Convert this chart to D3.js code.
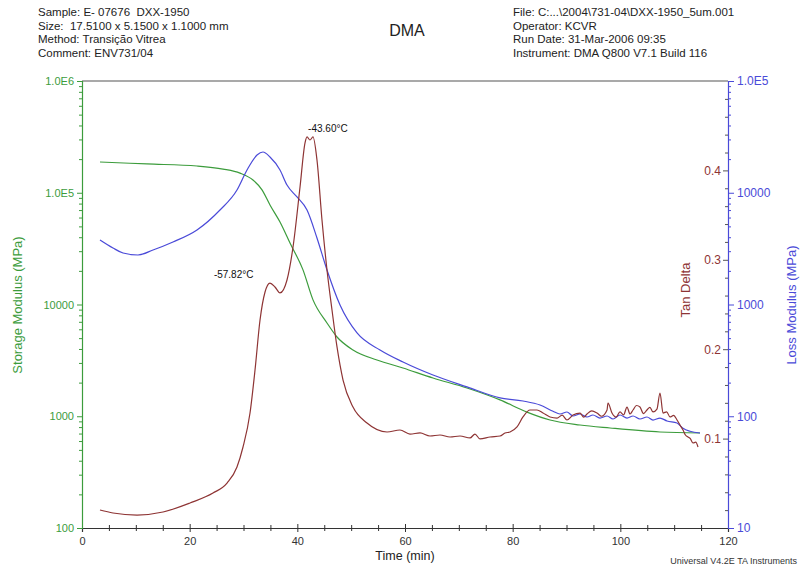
<!DOCTYPE html>
<html lang="en">
<head>
<meta charset="UTF-8">
<title>DMA</title>
<script src="https://d3js.org/d3.v7.min.js"></script>
<style>
  body { margin: 0; background: #fff; }
  svg { font-family: "Liberation Sans", Arial, sans-serif; }
  .hdr { font-size: 11.5px; fill: #222; white-space: pre; }
  .tick text { font-size: 11px; }
  .domain { stroke-width: 1.2px; }
</style>
</head>
<body>
<div id="chart"></div>
<script>
// ---- data ----
const storageTime = [3.34, 12.07, 21.36, 26.19, 29.35, 31.76, 33.44, 34.92, 36.78, 38.64, 41.05, 42.91, 45.51, 47.37, 50.34, 54.80, 59.63, 65.20, 71.52, 77.65, 82.66, 86.94, 92.51, 98.09, 107.37, 114.8];
const storageModulus = [188500, 181000, 173500, 163000, 150000, 130000, 106000, 77700, 54700, 35500, 20400, 11000, 6830, 5120, 3920, 3190, 2700, 2200, 1790, 1400, 1090, 925, 835, 785, 723, 708];

const lossTime = [3.34, 5.76, 7.62, 10.40, 13.19, 16.90, 21.36, 25.63, 28.79, 30.65, 32.51, 33.62, 34.92, 36.78, 38.08, 39.94, 41.80, 43.65, 45.51, 47.93, 51.09, 55.36, 59.63, 65.20, 71.52, 77.65, 81.92, 85.08, 87.49, 88.79, 90.09, 91.21, 92.51, 93.81, 94.92, 96.22, 97.53, 98.64, 99.94, 101.24, 102.36, 103.65, 104.95, 106.07, 107.37, 108.67, 110.53, 111.64, 112.94, 114.8];
const lossModulus = [3778, 3203, 2890, 2773, 3074, 3625, 4642, 7008, 10580, 15980, 21770, 23150, 20890, 15980, 11730, 9162, 7008, 3937, 2036, 989, 556, 392, 306, 234, 183, 146, 137, 126, 111, 104.7, 109.1, 100.5, 104.7, 98.5, 102.6, 96.4, 100.5, 94.5, 102.6, 96.4, 100.5, 94.5, 98.5, 92.5, 96.4, 90.7, 87.0, 78.1, 73.4, 70.8];

const tanTime = [3.34, 5.76, 10.22, 15.05, 20.06, 24.33, 26.94, 28.79, 29.91, 31.21, 32.14, 33.07, 34.0, 34.92, 35.85, 36.78, 38.08, 39.20, 40.50, 41.42, 41.80, 42.35, 42.91, 43.65, 44.58, 45.51, 46.44, 47.37, 48.49, 50.34, 52.94, 56.66, 59.07, 60.93, 62.79, 64.64, 66.50, 68.36, 70.22, 72.08, 73.0, 73.93, 75.79, 77.65, 78.58, 79.51, 80.81, 81.92, 83.22, 84.52, 85.64, 86.94, 88.24, 89.2, 90.09, 91.21, 92.51, 93.2, 93.81, 94.7, 95.67, 96.5, 97.53, 97.71, 98.45, 99.2, 99.94, 100.6, 101.24, 101.8, 102.36, 103.0, 103.65, 104.3, 104.95, 105.5, 106.07, 106.8, 107.37, 107.93, 108.6, 109.23, 109.9, 110.53, 111.1, 111.64, 112.1, 112.57, 113.0, 113.50, 114.0, 114.43];
const tanDelta = [0.0201, 0.0168, 0.0145, 0.0179, 0.0280, 0.0391, 0.0503, 0.0682, 0.0906, 0.1286, 0.1767, 0.2327, 0.264, 0.2740, 0.2696, 0.2629, 0.2774, 0.3143, 0.3814, 0.4306, 0.4374, 0.434, 0.4374, 0.4116, 0.3445, 0.2886, 0.2438, 0.2025, 0.1655, 0.1353, 0.1174, 0.1074, 0.1096, 0.1051, 0.1063, 0.1029, 0.1040, 0.1018, 0.1029, 0.1007, 0.1051, 0.0996, 0.1018, 0.1029, 0.1063, 0.1074, 0.1130, 0.1242, 0.1320, 0.1320, 0.1286, 0.1242, 0.1230, 0.1262, 0.1208, 0.1264, 0.1286, 0.1240, 0.1275, 0.1310, 0.1286, 0.1250, 0.1320, 0.1398, 0.1286, 0.1240, 0.1298, 0.1265, 0.1353, 0.1275, 0.1320, 0.1370, 0.1353, 0.1280, 0.1320, 0.1350, 0.1298, 0.1330, 0.1510, 0.1286, 0.1300, 0.1242, 0.1260, 0.1208, 0.1150, 0.1096, 0.1040, 0.1018, 0.1000, 0.0951, 0.0960, 0.0906];

const peakLabels = [
  { text: "-43.60°C", t: 42.0, v: 0.4374 },
  { text: "-57.82°C", t: 24.5, v: 0.2740 }
];

const headerLeft = ["Sample: E- 07676  DXX-1950", "Size:  17.5100 x 5.1500 x 1.1000 mm", "Method: Transição Vitrea", "Comment: ENV731/04"];
const headerRight = ["File: C:...\\2004\\731-04\\DXX-1950_5um.001", "Operator: KCVR", "Run Date: 31-Mar-2006 09:35", "Instrument: DMA Q800 V7.1 Build 116"];

const xTicks = [0, 20, 40, 60, 80, 100, 120];
const storageTicks = [100, 1000, 10000, 100000, 1000000];
const lossTicks = [10, 100, 1000, 10000, 100000];
const tanTicks = [0.1, 0.2, 0.3, 0.4];

// ---- colours ----
const cGreen = "#3c9c3c", cBlue = "#4a4ad8", cRed = "#8e3434";

const W = 800, H = 572;
const plot = { left: 82, right: 728, top: 81, bottom: 528 };

const svg = d3.select("#chart").append("svg").attr("width", W).attr("height", H);

const x = d3.scaleLinear().domain([0, 120]).range([plot.left, plot.right]);
const yS = d3.scaleLog().domain([100, 1e6]).range([plot.bottom, plot.top]);
const yL = d3.scaleLog().domain([10, 1e5]).range([plot.bottom, plot.top]);
const yT = d3.scaleLinear().domain([0, 0.5]).range([plot.bottom, plot.top]);

const logFmt = d => d >= 1e5 ? "1.0E" + Math.round(Math.log10(d)) : d3.format("d")(d);
const minorLog = (lo, hi) => {
  const out = [];
  for (let p = lo; p < hi; p *= 10) for (let k = 2; k <= 9; k++) out.push(p * k);
  return out;
};

// header
svg.append("g").selectAll("text").data(headerLeft).join("text")
  .attr("class", "hdr").attr("x", 38).attr("y", (d, i) => 16 + i * 13.5).text(d => d);
svg.append("g").selectAll("text").data(headerRight).join("text")
  .attr("class", "hdr").attr("x", 513).attr("y", (d, i) => 16 + i * 13.5).text(d => d);
svg.append("text").attr("x", 407).attr("y", 36).attr("text-anchor", "middle")
  .style("font-size", "16px").attr("fill", "#222").text("DMA");

// top frame line
svg.append("line").attr("x1", plot.left).attr("x2", plot.right)
  .attr("y1", plot.top).attr("y2", plot.top).attr("stroke", "#555").attr("stroke-width", 1.2);

// x axis
const gx = svg.append("g").attr("transform", `translate(0,${plot.bottom})`)
  .call(d3.axisBottom(x).tickValues(xTicks).tickSize(4).tickPadding(5).tickFormat(d3.format("d")));
gx.select(".domain").attr("stroke", "#333");
gx.selectAll(".tick line").attr("y1", -4).attr("stroke", "#333");
gx.selectAll(".tick text").attr("fill", "#333");
svg.append("g").attr("transform", `translate(0,${plot.bottom})`)
  .call(d3.axisBottom(x).tickValues(d3.range(5, 120, 5).filter(d => d % 20)).tickSize(3).tickFormat(""))
  .call(g => g.select(".domain").remove())
  .call(g => g.selectAll(".tick line").attr("y1", -3).attr("stroke", "#333"));

// storage axis (left)
const gs = svg.append("g").attr("transform", `translate(${plot.left},0)`)
  .call(d3.axisLeft(yS).tickValues(storageTicks).tickSize(5).tickPadding(3).tickFormat(logFmt));
gs.select(".domain").attr("stroke", cGreen);
gs.selectAll(".tick line").attr("stroke", cGreen);
gs.selectAll(".tick text").attr("fill", cGreen);
svg.append("g").attr("transform", `translate(${plot.left},0)`)
  .call(d3.axisLeft(yS).tickValues(minorLog(100, 1e6)).tickSize(3).tickFormat(""))
  .call(g => g.select(".domain").remove())
  .call(g => g.selectAll(".tick line").attr("stroke", cGreen));

// loss axis (right)
const gl = svg.append("g").attr("transform", `translate(${plot.right},0)`)
  .call(d3.axisRight(yL).tickValues(lossTicks).tickSize(6).tickPadding(3).tickFormat(logFmt));
gl.select(".domain").attr("stroke", cBlue);
gl.selectAll(".tick line").attr("stroke", cBlue);
gl.selectAll(".tick text").attr("fill", cBlue).style("font-size", "12px");
svg.append("g").attr("transform", `translate(${plot.right},0)`)
  .call(d3.axisRight(yL).tickValues(minorLog(10, 1e5)).tickSize(3).tickFormat(""))
  .call(g => g.select(".domain").remove())
  .call(g => g.selectAll(".tick line").attr("stroke", cBlue));

// tan delta axis (ticks on inside of right edge)
const gt = svg.append("g").attr("transform", `translate(${plot.right},0)`)
  .call(d3.axisLeft(yT).tickValues(tanTicks).tickSize(5).tickPadding(2).tickFormat(d3.format(".1f")));
gt.select(".domain").remove();
gt.selectAll(".tick line").attr("stroke", "#555");
gt.selectAll(".tick text").attr("fill", cRed).style("font-size", "12px");
svg.append("g").attr("transform", `translate(${plot.right},0)`)
  .call(d3.axisLeft(yT).tickValues(d3.range(0.02, 0.5, 0.02).filter(d => Math.abs(d * 10 - Math.round(d * 10)) > 1e-6)).tickSize(3).tickFormat(""))
  .call(g => g.select(".domain").remove())
  .call(g => g.selectAll(".tick line").attr("stroke", "#555"));

// axis titles
svg.append("text").attr("transform", "translate(22,305) rotate(-90)").attr("text-anchor", "middle")
  .style("font-size", "13px").attr("fill", cGreen).text("Storage Modulus (MPa)");
svg.append("text").attr("transform", "translate(690,290) rotate(-90)").attr("text-anchor", "middle")
  .style("font-size", "13px").attr("fill", cRed).text("Tan Delta");
svg.append("text").attr("transform", "translate(796,305) rotate(-90)").attr("text-anchor", "middle")
  .style("font-size", "13px").attr("fill", cBlue).text("Loss Modulus (MPa)");
svg.append("text").attr("x", 405).attr("y", 560).attr("text-anchor", "middle")
  .style("font-size", "12.5px").attr("fill", "#222").text("Time (min)");
svg.append("text").attr("x", 797).attr("y", 564).attr("text-anchor", "end")
  .style("font-size", "9px").attr("fill", "#333").text("Universal V4.2E TA Instruments");

// curves
const lineOf = (ts, vs, yScale) => d3.line().curve(d3.curveMonotoneX)
  .x(i => x(ts[i])).y(i => yScale(vs[i]))(d3.range(ts.length));

svg.append("path").attr("d", lineOf(storageTime, storageModulus, yS))
  .attr("fill", "none").attr("stroke", cGreen).attr("stroke-width", 1.2);
svg.append("path").attr("d", lineOf(lossTime, lossModulus, yL))
  .attr("fill", "none").attr("stroke", cBlue).attr("stroke-width", 1.2);
svg.append("path").attr("d", lineOf(tanTime, tanDelta, yT))
  .attr("fill", "none").attr("stroke", cRed).attr("stroke-width", 1.2);

// peak annotations
svg.append("g").selectAll("text").data(peakLabels).join("text")
  .attr("x", d => x(d.t)).attr("y", d => yT(d.v) - 5)
  .style("font-size", "10px").attr("fill", "#111").text(d => d.text);
</script>
</body>
</html>
